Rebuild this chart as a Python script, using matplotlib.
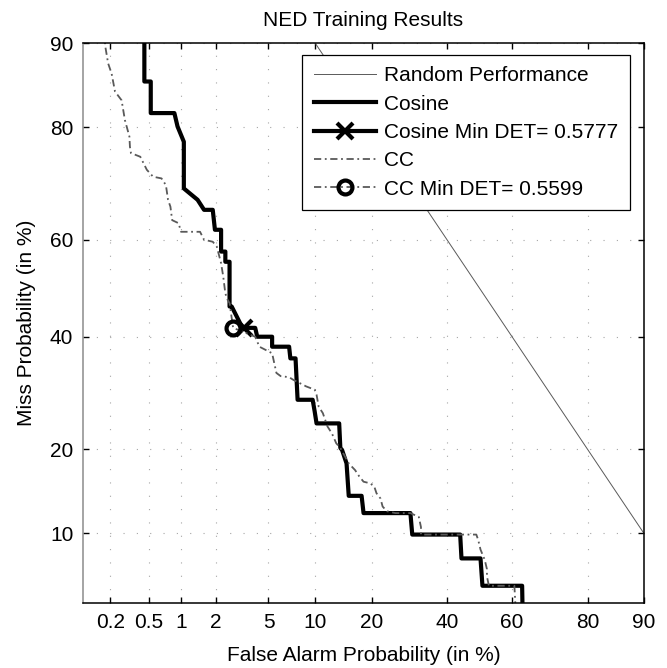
from statistics import NormalDist

import numpy as np
import matplotlib
matplotlib.use('Agg')
import matplotlib.pyplot as plt
from matplotlib.ticker import NullLocator

plt.rcParams['font.family'] = ['Liberation Sans', 'DejaVu Sans']

# DET curve vertices (percent): false alarm, miss
cos_fa = [0.45, 0.45, 0.52, 0.52, 0.87, 0.93, 1.06, 1.06, 1.40, 1.59, 1.88, 1.96, 2.20, 2.20,
          2.38, 2.38, 2.57, 2.57, 2.67, 3.11, 3.30, 4.02, 4.16, 5.30, 5.30, 6.89, 7.02, 7.58,
          7.81, 9.67, 9.94, 10.2, 13.7, 13.9, 14.2, 15.0, 15.4, 17.9, 18.3, 29.5, 30.0, 44.0,
          44.4, 50.3, 50.9, 63.0, 63.2]
cos_miss = [99.0, 86.0, 86.0, 82.0, 82.0, 80.1, 77.8, 69.9, 67.8, 65.9, 65.9, 62.0, 62.0, 57.6,
            57.6, 55.5, 55.5, 46.2, 46.2, 42.7, 41.8, 41.8, 40.0, 40.0, 38.0, 38.0, 35.7, 35.7,
            28.0, 28.0, 26.0, 24.0, 24.0, 20.2, 19.9, 18.0, 13.9, 13.9, 12.0, 12.0, 9.9, 9.9,
            7.9, 7.9, 6.0, 6.0, 4.0]

cc_fa = [0.17, 0.176, 0.19, 0.207, 0.225, 0.264, 0.286, 0.298, 0.318, 0.322, 0.33, 0.41, 0.476,
         0.548, 0.66, 0.726, 0.76, 0.80, 0.83, 0.95, 1.0, 1.47, 1.59, 1.88, 2.03, 2.20, 2.29,
         2.38, 2.48, 2.57, 2.74, 4.02, 4.31, 5.30, 5.48, 5.67, 6.06, 6.89, 7.34, 8.31, 8.83,
         9.94, 10.2, 10.5, 11.1, 11.8, 12.5, 13.2, 13.9, 15.4, 16.6, 17.4, 18.3, 19.7, 20.6,
         21.1, 22.0, 22.5, 23.5, 25.6, 29.5, 31.8, 32.4, 32.4, 43.7, 49.0, 49.6, 50.3, 51.6,
         52.3, 52.3, 52.9, 60.7, 61.3]
cc_miss = [95.0, 89.8, 88.0, 86.9, 84.8, 83.7, 81.0, 80.1, 78.6, 77.0, 76.0, 75.4, 73.2, 72.0,
           71.7, 70.5, 67.8, 66.5, 63.9, 63.3, 61.6, 61.6, 60.0, 59.6, 58.6, 55.2, 52.4, 48.9,
           47.6, 46.9, 41.8, 40.0, 38.0, 36.7, 34.8, 32.9, 32.3, 32.1, 31.6, 30.8, 30.4, 29.8,
           28.9, 26.8, 25.7, 23.5, 22.4, 20.9, 20.2, 18.0, 17.1, 16.3, 15.6, 15.4, 15.0, 14.2,
           13.6, 12.7, 12.2, 12.0, 12.0, 11.6, 10.6, 9.9, 9.9, 9.9, 9.4, 8.6, 7.8, 7.1, 6.6,
           6.0, 6.0, 4.0]

cos_min = (3.3, 41.8)
cc_min = (2.74, 41.8)

random_fa = np.array([0.1, 99.9])
random_miss = 100 - random_fa

xticks = [0.2, 0.5, 1, 2, 5, 10, 20, 40, 60, 80, 90]
yticks = [10, 20, 40, 60, 80, 90]

_nd = NormalDist()
_ppf = np.vectorize(_nd.inv_cdf, otypes=[float])
_cdf = np.vectorize(_nd.cdf, otypes=[float])


def probit(p):
    p = np.clip(np.asarray(p, dtype=float) / 100.0, 1e-9, 1 - 1e-9)
    return _ppf(p)


def inv_probit(z):
    return _cdf(np.asarray(z, dtype=float)) * 100.0


fig = plt.figure(figsize=(6.67, 6.68), dpi=100)
ax = fig.add_axes([83 / 667, 1 - 603 / 668, 561 / 667, 560 / 668])
ax.set_xscale('function', functions=(probit, inv_probit))
ax.set_yscale('function', functions=(probit, inv_probit))

cc_ls = (0, (4, 2, 1, 2))
ax.plot(random_fa, random_miss, color='0.35', lw=0.7, label='Random Performance')
ax.plot(cos_fa, cos_miss, color='k', lw=3, label='Cosine')
ax.plot([cos_min[0]], [cos_min[1]], color='k', lw=3, marker='x', ms=11, mew=3,
        label='Cosine Min DET= 0.5777')
ax.plot(cc_fa, cc_miss, color='0.35', lw=1.3, ls=cc_ls, label='CC')
ax.plot([cc_min[0]], [cc_min[1]], color='0.35', lw=1.3, ls=cc_ls, marker='o', ms=10,
        mew=3, mfc='none', mec='k', label='CC Min DET= 0.5599')

ax.set_xlim(0.1, 90)
ax.set_ylim(5, 90)
ax.set_xticks(xticks)
ax.set_xticklabels([str(t) for t in xticks])
ax.set_yticks(yticks)
ax.set_yticklabels([str(t) for t in yticks])
ax.xaxis.set_minor_locator(NullLocator())
ax.yaxis.set_minor_locator(NullLocator())
ax.tick_params(direction='in', length=4, width=1, top=True, right=True,
               labelsize=15, pad=7)
ax.grid(True, color='0.65', linestyle=(0, (1, 11)), linewidth=0.8)
for s in ax.spines.values():
    s.set_linewidth(1.1)
ax.spines['left'].set_color('0.55')

ax.set_title('NED Training Results', fontsize=15, pad=12)
ax.set_xlabel('False Alarm Probability (in %)', fontsize=15, labelpad=10)
ax.set_ylabel('Miss Probability (in %)', fontsize=15, labelpad=10)

leg = ax.legend(loc='upper right', bbox_to_anchor=(0.975, 0.979), borderaxespad=0,
                fontsize=15, handlelength=3.0, handletextpad=0.4, labelspacing=0.45,
                borderpad=0.55, fancybox=False, framealpha=1)
leg.get_frame().set_edgecolor('k')
leg.get_frame().set_linewidth(0.9)

fig.savefig('out.png', dpi=100)
